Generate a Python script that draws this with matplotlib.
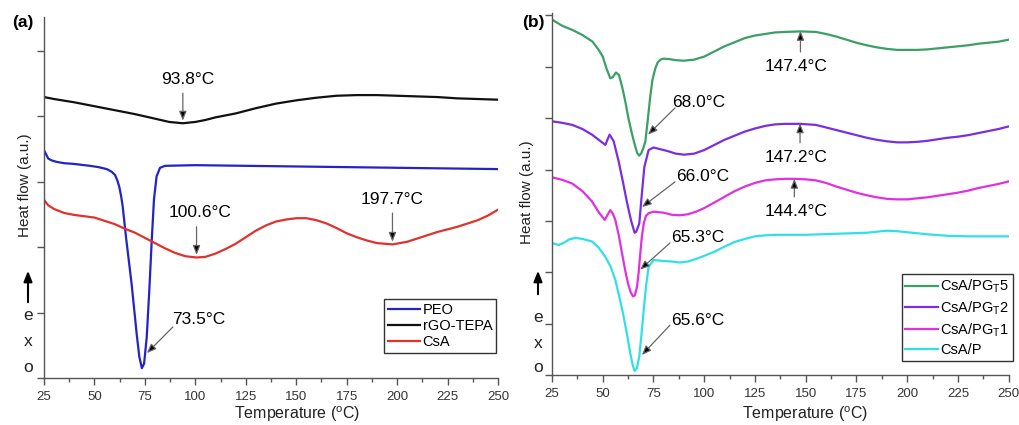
import numpy as np
import matplotlib
matplotlib.use('Agg')
import matplotlib.pyplot as plt
from matplotlib.ticker import MultipleLocator, NullFormatter

plt.rcParams['font.family'] = ['Liberation Sans', 'DejaVu Sans']
plt.rcParams['mathtext.fontset'] = 'custom'
plt.rcParams['mathtext.rm'] = 'Liberation Sans'

# ---- panel (a) data (temperature in degC, heat flow in a.u.) ----
peo_t = [25, 27.1, 29, 31.3, 35, 39.5, 47.8, 52, 56.1, 58.5, 60.2, 61.3, 62.3, 63.2, 64, 65.6, 67, 68.4, 70.9, 72.2, 73.5,
         74.6, 75.9, 77.2, 78.4, 79.5, 80.8, 82.5, 85, 100, 125, 150, 175, 200, 225, 250]
peo_y = [3.48, 3.35, 3.32, 3.30, 3.28, 3.27, 3.24, 3.22, 3.19, 3.15, 3.10, 3.02, 2.92, 2.78, 2.62, 2.16, 1.80, 1.44, 0.68, 0.33, 0.15,
         0.22, 0.62, 1.35, 2.11, 2.73, 3.08, 3.21, 3.24, 3.25, 3.24, 3.23, 3.22, 3.21, 3.20, 3.19]

rgo_t = [25, 30, 40, 50, 60, 70, 80, 87, 93.8, 100, 105, 110, 120, 130, 140, 150, 160, 170, 180, 190, 200, 210, 220, 230, 240, 250]
rgo_y = [4.29, 4.26, 4.21, 4.15, 4.09, 4.03, 3.96, 3.91, 3.89, 3.91, 3.94, 3.98, 4.04, 4.12, 4.19, 4.24, 4.28, 4.31, 4.32, 4.32,
         4.31, 4.30, 4.29, 4.27, 4.26, 4.25]

csa_t = [25, 27, 30, 35, 40, 45, 50, 55, 60, 65, 70, 75, 80, 85, 90, 95, 100.6, 105, 110, 115, 120, 125, 130, 135, 140, 145,
         150, 155, 160, 165, 170, 175, 180, 185, 190, 197.7, 205, 210, 215, 220, 225, 230, 235, 240, 245, 250]
csa_y = [2.72, 2.64, 2.58, 2.52, 2.49, 2.47, 2.45, 2.40, 2.35, 2.28, 2.22, 2.14, 2.06, 1.98, 1.91, 1.86, 1.84, 1.85, 1.90, 1.97,
         2.05, 2.15, 2.25, 2.33, 2.39, 2.42, 2.44, 2.44, 2.41, 2.36, 2.29, 2.21, 2.15, 2.10, 2.06, 2.04, 2.08, 2.13, 2.18, 2.23,
         2.27, 2.31, 2.36, 2.41, 2.48, 2.57]

# ---- panel (b) data ----
pg5_t = [25, 30, 35, 40, 45, 48, 50, 52, 53.7, 55, 56.5, 58, 59.5, 61, 62.8, 64.5, 66, 67, 68, 69, 70, 71, 72, 73.4, 74.5,
         75.9, 77, 78.4, 80, 83, 86, 90, 95, 100, 105, 110, 115, 120, 125, 130, 135, 140, 147.4, 155, 160, 165, 170, 175, 180,
         185, 190, 195, 200, 205, 210, 215, 220, 225, 230, 235, 240, 245, 250]
pg5_y = [6.92, 6.80, 6.72, 6.62, 6.49, 6.33, 6.20, 5.95, 5.78, 5.80, 5.89, 5.84, 5.62, 5.35, 4.97, 4.68, 4.45, 4.32, 4.27, 4.32,
         4.42, 4.55, 4.90, 5.42, 5.75, 5.97, 6.08, 6.14, 6.16, 6.15, 6.13, 6.12, 6.14, 6.20, 6.30, 6.40, 6.48, 6.56, 6.61, 6.64,
         6.67, 6.68, 6.69, 6.68, 6.64, 6.59, 6.53, 6.47, 6.42, 6.38, 6.35, 6.33, 6.33, 6.33, 6.34, 6.36, 6.38, 6.40, 6.42, 6.45,
         6.47, 6.49, 6.53]

pg2_t = [25, 30, 35, 40, 44.7, 48, 50, 51.3, 52.3, 53.4, 55.4, 57.9, 60, 62, 64, 65.7, 66.5, 68, 69.3, 70.5, 72.6, 75, 78,
         82, 86, 90, 95, 100, 105, 110, 115, 120, 125, 130, 135, 140, 147.2, 155, 160, 165, 170, 175, 180, 185, 190, 195, 200,
         205, 210, 215, 220, 225, 230, 235, 240, 245, 250]
pg2_y = [4.94, 4.91, 4.87, 4.79, 4.68, 4.58, 4.52, 4.48, 4.58, 4.68, 4.55, 4.15, 3.75, 3.35, 3.00, 2.77, 2.79, 2.95, 3.54, 4.05,
         4.38, 4.43, 4.40, 4.36, 4.31, 4.29, 4.31, 4.38, 4.48, 4.58, 4.66, 4.74, 4.80, 4.85, 4.88, 4.89, 4.89, 4.87, 4.82, 4.77,
         4.72, 4.67, 4.62, 4.58, 4.55, 4.53, 4.53, 4.54, 4.56, 4.59, 4.62, 4.64, 4.67, 4.71, 4.75, 4.79, 4.84]

pg1_t = [25, 30, 34.9, 40, 44.7, 48, 51, 52.4, 53.7, 55, 56.2, 58, 59.5, 61, 62.4, 63.7, 64.9, 65.8, 66.9, 67.7, 68.5, 69.3,
         70.2, 71.3, 72.6, 75, 80, 84, 88, 92, 96, 100, 105, 110, 115, 120, 125, 130, 135, 140, 144.4, 150, 155, 160, 165, 170,
         175, 180, 185, 190, 195, 200, 205, 210, 215, 220, 225, 230, 235, 240, 245, 250]
pg1_y = [3.85, 3.80, 3.73, 3.58, 3.38, 3.17, 3.02, 3.12, 3.21, 3.14, 3.02, 2.70, 2.37, 2.05, 1.79, 1.62, 1.53, 1.55, 1.72, 2.00,
         2.37, 2.70, 2.95, 3.10, 3.15, 3.18, 3.16, 3.12, 3.11, 3.13, 3.18, 3.25, 3.36, 3.47, 3.58, 3.67, 3.74, 3.79, 3.81, 3.82,
         3.82, 3.81, 3.79, 3.74, 3.67, 3.61, 3.55, 3.50, 3.46, 3.43, 3.42, 3.42, 3.44, 3.46, 3.49, 3.52, 3.55, 3.59, 3.64, 3.68,
         3.72, 3.77]

csap_t = [25, 28.3, 31, 33.5, 36.5, 40, 44.7, 48, 51.3, 54, 56.2, 58.3, 60.3, 62, 63.6, 64.7, 65.7, 66.8, 68, 69.1, 70.2, 71.4,
          72.6, 75.1, 80, 84, 88, 92, 96, 100, 105, 110, 115, 120, 125, 130, 135, 150, 165, 180, 185, 190, 195, 200, 210, 220,
          230, 250]
csap_y = [2.57, 2.53, 2.58, 2.64, 2.67, 2.65, 2.60, 2.48, 2.30, 2.10, 1.85, 1.50, 1.14, 0.78, 0.42, 0.20, 0.08, 0.13, 0.36,
          0.80, 1.27, 1.75, 2.11, 2.24, 2.22, 2.21, 2.19, 2.21, 2.26, 2.32, 2.40, 2.50, 2.59, 2.65, 2.70, 2.72, 2.73, 2.73, 2.75,
          2.77, 2.79, 2.81, 2.80, 2.78, 2.74, 2.71, 2.70, 2.70]

fig = plt.figure(figsize=(10.19, 4.25), dpi=100)
ax_a = fig.add_axes([0.0432, 0.1106, 0.4455, 0.849])
ax_b = fig.add_axes([0.5417, 0.1176, 0.4482, 0.852])

GRAY = '#555555'
ARROW = dict(arrowstyle='-|>,head_length=0.55,head_width=0.22', ec='#666666', fc='black', lw=0.9, shrinkA=0, shrinkB=0)


def style_axes(ax, ytop, ylabel_xy, xlabel_xy):
    ax.set_xlim(25, 250)
    ax.set_ylim(0, ytop)
    for side in ['top', 'right']:
        ax.spines[side].set_visible(False)
    for side in ['left', 'bottom']:
        ax.spines[side].set_color(GRAY)
        ax.spines[side].set_linewidth(1.0)
    ax.xaxis.set_major_locator(MultipleLocator(25))
    ax.xaxis.set_minor_locator(MultipleLocator(12.5))
    ax.yaxis.set_major_locator(MultipleLocator(1))
    ax.yaxis.set_major_formatter(NullFormatter())
    ax.tick_params(axis='both', which='major', direction='out', length=5, width=1, color=GRAY, labelsize=9.5,
                   labelcolor='#333333', pad=4.5)
    ax.tick_params(axis='x', which='minor', direction='out', length=3, width=1, color=GRAY)
    ax.set_xlabel('Temperature ($\\mathregular{^o}$C)', fontsize=11.5, color='#222222')
    ax.set_ylabel('Heat flow (a.u.)', fontsize=11, color='#222222')
    ax.yaxis.set_label_coords(*ylabel_xy)
    ax.xaxis.set_label_coords(*xlabel_xy)
    ax.patch.set_alpha(0)


# ---- panel (a) ----
ax_a.plot(peo_t, peo_y, color='#2323c8', lw=1.6, label='PEO')
ax_a.plot(rgo_t, rgo_y, color='#111111', lw=1.6, label='rGO-TEPA')
ax_a.plot(csa_t, csa_y, color='#e0322c', lw=1.6, label='CsA')
style_axes(ax_a, 5.51, (-0.027, 0.535), (0.557, -0.074))

ax_a.annotate('', xy=(93.8, 3.93), xytext=(93.8, 4.35), arrowprops=ARROW)
ax_a.text(96.4, 4.565, '93.8°C', fontsize=12.5, ha='center', va='center')
ax_a.annotate('', xy=(100.6, 1.88), xytext=(100.6, 2.31), arrowprops=ARROW)
ax_a.text(102.3, 2.52, '100.6°C', fontsize=12.5, ha='center', va='center')
ax_a.annotate('', xy=(197.7, 2.08), xytext=(197.7, 2.52), arrowprops=ARROW)
ax_a.text(197.4, 2.72, '197.7°C', fontsize=12.5, ha='center', va='center')
ax_a.annotate('', xy=(76.0, 0.38), xytext=(88.9, 0.78), arrowprops=ARROW)
ax_a.text(101.8, 0.90, '73.5°C', fontsize=12.5, ha='center', va='center')

leg = ax_a.legend(loc='upper left', bbox_to_anchor=(0.749, 0.219), borderaxespad=0, fontsize=10.5,
                  handlelength=2.2, handletextpad=0.2, labelspacing=0.15, borderpad=0.25,
                  fancybox=False, framealpha=1)
leg.get_frame().set_edgecolor('#333333')
leg.get_frame().set_linewidth(1.0)

# ---- panel (b) ----
ax_b.plot(pg5_t, pg5_y, color='#3aa065', lw=1.6, label='CsA/PG$\\mathregular{_T}$5')
ax_b.plot(pg2_t, pg2_y, color='#7a2ee0', lw=1.6, label='CsA/PG$\\mathregular{_T}$2')
ax_b.plot(pg1_t, pg1_y, color='#e030e0', lw=1.6, label='CsA/PG$\\mathregular{_T}$1')
ax_b.plot(csap_t, csap_y, color='#30e0e6', lw=1.6, label='CsA/P')
style_axes(ax_b, 7.05, (-0.039, 0.505), (0.554, -0.082))

ax_b.annotate('', xy=(147.4, 6.70), xytext=(147.4, 6.29), arrowprops=ARROW)
ax_b.text(145.2, 6.0, '147.4°C', fontsize=12.5, ha='center', va='center')
ax_b.annotate('', xy=(72.3, 4.68), xytext=(85.6, 5.20), arrowprops=ARROW)
ax_b.text(97.4, 5.30, '68.0°C', fontsize=12.5, ha='center', va='center')
ax_b.annotate('', xy=(147.2, 4.90), xytext=(147.2, 4.52), arrowprops=ARROW)
ax_b.text(145.2, 4.23, '147.2°C', fontsize=12.5, ha='center', va='center')
ax_b.annotate('', xy=(69.3, 3.27), xytext=(85.6, 3.76), arrowprops=ARROW)
ax_b.text(99.4, 3.86, '66.0°C', fontsize=12.5, ha='center', va='center')
ax_b.annotate('', xy=(144.4, 3.82), xytext=(144.4, 3.47), arrowprops=ARROW)
ax_b.text(145.2, 3.18, '144.4°C', fontsize=12.5, ha='center', va='center')
ax_b.annotate('', xy=(68.4, 2.05), xytext=(83.1, 2.57), arrowprops=ARROW)
ax_b.text(96.9, 2.67, '65.3°C', fontsize=12.5, ha='center', va='center')
ax_b.annotate('', xy=(69.3, 0.39), xytext=(83.1, 0.97), arrowprops=ARROW)
ax_b.text(96.9, 1.07, '65.6°C', fontsize=12.5, ha='center', va='center')

leg = ax_b.legend(loc='upper left', bbox_to_anchor=(0.766, 0.279), borderaxespad=0, fontsize=10.5,
                  handlelength=2.2, handletextpad=0.2, labelspacing=0.3, borderpad=0.25,
                  fancybox=False, framealpha=1)
leg.get_frame().set_edgecolor('#333333')
leg.get_frame().set_linewidth(1.0)

# ---- panel tags and exo arrows ----
W, H = 1019, 425
for tag, px, py in [('(a)', 23, 23), ('(b)', 533, 23)]:
    fig.text(px / W, 1 - py / H, tag, fontsize=12.5, fontweight='bold', ha='center', va='center')

for px, ys in [(28, (305, 268, 316, 342, 367)), (538, (297, 268, 318, 343, 367))]:
    fig.patches.append(matplotlib.patches.FancyArrowPatch(
        (px / W, 1 - ys[0] / H), (px / W, 1 - ys[1] / H), transform=fig.transFigure,
        arrowstyle='-|>,head_length=0.45,head_width=0.18', mutation_scale=14, color='black', lw=1.5))
    for letter, py in zip('exo', ys[2:]):
        fig.text(px / W, 1 - py / H, letter, fontsize=12.5, ha='center', va='center', color='#222222')

fig.savefig('out.png', dpi=100)
